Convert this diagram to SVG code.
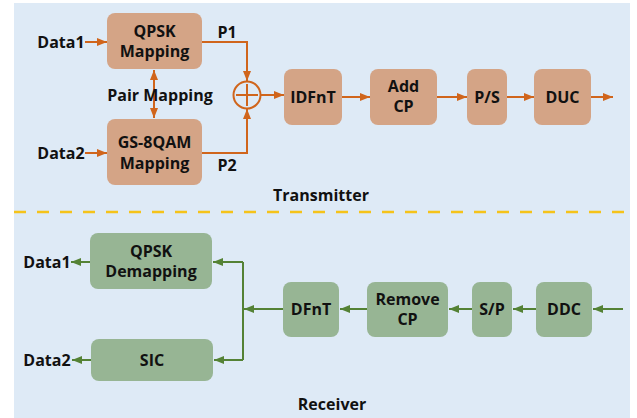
<svg xmlns="http://www.w3.org/2000/svg" width="637" height="418" viewBox="0 0 637 418">
<defs>
<marker id="ao" viewBox="0 0 10 8" refX="10" refY="4" markerWidth="10" markerHeight="8" markerUnits="userSpaceOnUse" orient="auto-start-reverse"><path d="M0,0 L10,4 L0,8 Z" fill="#D0651C"/></marker>
<marker id="ag" viewBox="0 0 10 8" refX="10" refY="4" markerWidth="10" markerHeight="8" markerUnits="userSpaceOnUse" orient="auto-start-reverse"><path d="M0,0 L10,4 L0,8 Z" fill="#548235"/></marker>
</defs>
<style>
text{font-family:"Open Sans","Noto Sans","DejaVu Sans",sans-serif;font-weight:bold;font-size:16px;fill:#111;text-anchor:middle;dominant-baseline:central}
.tx{fill:#D4A486}
.rx{fill:#97B594}
.lo{stroke:#D0651C;stroke-width:2;fill:none}
.lg{stroke:#548235;stroke-width:2;fill:none}
</style>
<rect x="14" y="3" width="616" height="415" fill="#DEEAF6"/>
<line x1="14" y1="212" x2="630" y2="212" stroke="#F5C31A" stroke-width="2.5" stroke-dasharray="12,11"/>
<text x="321" y="195">Transmitter</text>
<text x="332" y="404">Receiver</text>
<g id="connectors">
<line class="lo" x1="85" y1="42" x2="107" y2="42" marker-end="url(#ao)"/>
<line class="lo" x1="85" y1="153" x2="107" y2="153" marker-end="url(#ao)"/>
<polyline class="lo" points="202,42 247,42 247,81" marker-end="url(#ao)"/>
<polyline class="lo" points="202,153 247,153 247,109" marker-end="url(#ao)"/>
<line class="lo" x1="154" y1="70" x2="154" y2="118" marker-start="url(#ao)" marker-end="url(#ao)"/>
<line class="lo" x1="261" y1="95" x2="284" y2="95" marker-end="url(#ao)"/>
<line class="lo" x1="342" y1="97" x2="370" y2="97" marker-end="url(#ao)"/>
<line class="lo" x1="437" y1="97" x2="467" y2="97" marker-end="url(#ao)"/>
<line class="lo" x1="507" y1="97" x2="534" y2="97" marker-end="url(#ao)"/>
<line class="lo" x1="591" y1="97" x2="613" y2="97" marker-end="url(#ao)"/>
<line class="lg" x1="90" y1="262" x2="71" y2="262" marker-end="url(#ag)"/>
<line class="lg" x1="91" y1="360" x2="72" y2="360" marker-end="url(#ag)"/>
<polyline class="lg" points="243,262 243,360"/>
<line class="lg" x1="243" y1="262" x2="213" y2="262" marker-end="url(#ag)"/>
<line class="lg" x1="243" y1="360" x2="214" y2="360" marker-end="url(#ag)"/>
<line class="lg" x1="283" y1="309" x2="244" y2="309" marker-end="url(#ag)"/>
<line class="lg" x1="367" y1="309" x2="340" y2="309" marker-end="url(#ag)"/>
<line class="lg" x1="472" y1="309" x2="449" y2="309" marker-end="url(#ag)"/>
<line class="lg" x1="536" y1="309" x2="513" y2="309" marker-end="url(#ag)"/>
<line class="lg" x1="623" y1="309" x2="593" y2="309" marker-end="url(#ag)"/>
</g>
<text x="61" y="42">Data1</text>
<text x="61" y="153">Data2</text>
<text x="227" y="32">P1</text>
<text x="227" y="165">P2</text>
<text x="160" y="95">Pair Mapping</text>
<text x="47" y="262">Data1</text>
<text x="47" y="360">Data2</text>
<g id="qpsk-map"><rect class="tx" x="107" y="13" width="95" height="56" rx="8"/><text x="154.5" y="31">QPSK</text><text x="154.5" y="51">Mapping</text></g>
<g id="gs8qam-map"><rect class="tx" x="107" y="119" width="95" height="66" rx="8"/><text x="154.5" y="142">GS-8QAM</text><text x="154.5" y="163">Mapping</text></g>
<g id="adder"><circle cx="247" cy="95" r="13.5" fill="none" stroke="#D0651C" stroke-width="2"/><line class="lo" x1="236" y1="95" x2="258" y2="95"/><line class="lo" x1="247" y1="84" x2="247" y2="106"/></g>
<g id="idfnt"><rect class="tx" x="284" y="69" width="58" height="56" rx="8"/><text x="313" y="97">IDFnT</text></g>
<g id="addcp"><rect class="tx" x="370" y="69" width="67" height="56" rx="8"/><text x="403.5" y="86">Add</text><text x="403.5" y="106">CP</text></g>
<g id="ps"><rect class="tx" x="467" y="69" width="40" height="56" rx="8"/><text x="487" y="97">P/S</text></g>
<g id="duc"><rect class="tx" x="534" y="69" width="57" height="56" rx="8"/><text x="562.5" y="97">DUC</text></g>
<g id="qpsk-demap"><rect class="rx" x="90" y="233" width="122" height="56" rx="8"/><text x="151" y="251">QPSK</text><text x="151" y="271">Demapping</text></g>
<g id="sic"><rect class="rx" x="91" y="339" width="122" height="42" rx="8"/><text x="152" y="360">SIC</text></g>
<g id="dfnt"><rect class="rx" x="283" y="282" width="56" height="55" rx="8"/><text x="311" y="309">DFnT</text></g>
<g id="removecp"><rect class="rx" x="367" y="282" width="81" height="55" rx="8"/><text x="407.5" y="299">Remove</text><text x="407.5" y="319">CP</text></g>
<g id="sp"><rect class="rx" x="472" y="282" width="40" height="55" rx="8"/><text x="492" y="309">S/P</text></g>
<g id="ddc"><rect class="rx" x="536" y="282" width="56" height="55" rx="8"/><text x="564" y="309">DDC</text></g>
</svg>
